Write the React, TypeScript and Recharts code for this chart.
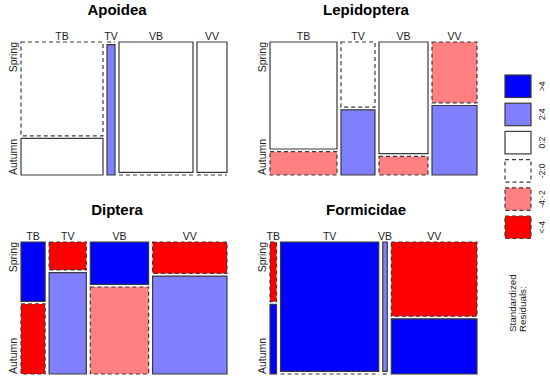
import { ComposedChart, XAxis, YAxis, ReferenceArea, ReferenceLine } from "recharts";

const sites = ["TB", "TV", "VB", "VV"];
const seasons = ["Spring", "Autumn"];

const apoideaSpring = [59, 0, 74, 30];
const apoideaAutumn = [23, 8, 0, 0];
const apoideaSpringShade = ["-2:0", "-2:0", "0:2", "0:2"];
const apoideaAutumnShade = ["0:2", "2:4", "-2:0", "-2:0"];

const lepidopteraSpring = [55, 17, 42, 21];
const lepidopteraAutumn = [12, 17, 7, 24];
const lepidopteraSpringShade = ["0:2", "-2:0", "0:2", "-4:-2"];
const lepidopteraAutumnShade = ["-4:-2", "2:4", "-4:-2", "2:4"];

const dipteraSpring = [11, 8, 19, 18];
const dipteraAutumn = [13, 29, 39, 56];
const dipteraSpringShade = [">4", "<-4", ">4", "<-4"];
const dipteraAutumnShade = ["<-4", "2:4", "-4:-2", "2:4"];

const formicidaeSpring = [6, 196, 9, 98];
const formicidaeAutumn = [7, 0, 0, 73];
const formicidaeSpringShade = ["<-4", ">4", "2:4", "<-4"];
const formicidaeAutumnShade = [">4", "-2:0", "-2:0", ">4"];

const legendLevels = [">4", "2:4", "0:2", "-2:0", "-4:-2", "<-4"];

const SHADE: Record<string, { fill: string; dashed: boolean }> = {
  ">4": { fill: "#0000FF", dashed: false },
  "2:4": { fill: "#8080FF", dashed: false },
  "0:2": { fill: "#FFFFFF", dashed: false },
  "-2:0": { fill: "#FFFFFF", dashed: true },
  "-4:-2": { fill: "#FF8080", dashed: true },
  "<-4": { fill: "#FF0000", dashed: true },
};

const FONT = "'Liberation Sans', Arial, Helvetica, sans-serif";
const LINE = "#3a3a3a";
const DASH = "4 3";
const GAP_X = 0.0194;
const GAP_Y = 0.02;

function buildCells(spring: number[], autumn: number[], springShade: string[], autumnShade: string[]) {
  const totals = spring.map((s, i) => s + autumn[i]);
  const grand = totals.reduce((a, b) => a + b, 0);
  const availX = 1 - GAP_X * (totals.length - 1);
  const availY = 1 - GAP_Y;
  const cells: { x1: number; x2: number; y1: number; y2: number; shade: string; zero: boolean }[] = [];
  const ticks: number[] = [];
  let x = 0;
  totals.forEach((t, i) => {
    const x2 = x + (t / grand) * availX;
    ticks.push((x + x2) / 2);
    const hs = (spring[i] / t) * availY;
    const ha = (autumn[i] / t) * availY;
    cells.push({ x1: x, x2, y1: 1 - hs, y2: 1, shade: springShade[i], zero: spring[i] === 0 });
    cells.push({ x1: x, x2, y1: 0, y2: ha, shade: autumnShade[i], zero: autumn[i] === 0 });
    x = x2 + GAP_X;
  });
  return { cells, ticks };
}

const SiteTick = (props: any) => (
  <text x={props.x} y={props.y + 6} textAnchor="middle" fontSize={10.5} fontFamily={FONT} fill="#222">
    {sites[props.index]}
  </text>
);

const SeasonTick = (props: any) => {
  const top = props.payload.value === 1;
  return (
    <text
      x={props.x}
      y={props.y}
      transform={`rotate(-90 ${props.x} ${props.y})`}
      textAnchor={top ? "end" : "start"}
      dominantBaseline="central"
      fontSize={10.5}
      fontFamily={FONT}
      fill="#222"
    >
      {top ? seasons[0] : seasons[1]}
    </text>
  );
};

type Plot = { left: number; top: number; width: number; height: number };

function MosaicPanel(p: { plot: Plot; spring: number[]; autumn: number[]; springShade: string[]; autumnShade: string[] }) {
  const { cells, ticks } = buildCells(p.spring, p.autumn, p.springShade, p.autumnShade);
  return (
    <div style={{ position: "absolute", left: p.plot.left - 22, top: p.plot.top - 24 }}>
      <ComposedChart
        width={p.plot.width + 26}
        height={p.plot.height + 28}
        data={cells}
        margin={{ top: 4, right: 4, bottom: 4, left: 2 }}
      >
        <XAxis dataKey="x1" type="number" orientation="top" domain={[0, 1]} ticks={ticks} interval={0} height={20} tickLine={false} axisLine={false} tick={<SiteTick />} />
        <YAxis dataKey="y2" type="number" domain={[0, 1]} ticks={[0, 1]} interval={0} width={20} tickLine={false} axisLine={false} tick={<SeasonTick />} />
        {cells.map((c, i) => {
          const s = SHADE[c.shade];
          return c.zero ? (
            <ReferenceLine
              key={i}
              segment={[{ x: c.x1, y: c.y1 }, { x: c.x2, y: c.y1 }]}
              stroke={LINE}
              strokeWidth={1.2}
              strokeDasharray={s.dashed ? DASH : undefined}
              ifOverflow="visible"
            />
          ) : (
            <ReferenceArea
              key={i}
              x1={c.x1}
              x2={c.x2}
              y1={c.y1}
              y2={c.y2}
              fill={s.fill}
              fillOpacity={1}
              stroke={LINE}
              strokeWidth={1.2}
              strokeDasharray={s.dashed ? DASH : undefined}
              ifOverflow="visible"
            />
          );
        })}
      </ComposedChart>
    </div>
  );
}

export default function App() {
  return (
    <div style={{ position: "absolute", left: 0, top: 0, width: 550, height: 380, background: "#fff", fontFamily: FONT }}>
      <MosaicPanel plot={{ left: 21, top: 42, width: 206, height: 133 }} spring={apoideaSpring} autumn={apoideaAutumn} springShade={apoideaSpringShade} autumnShade={apoideaAutumnShade} />
      <MosaicPanel plot={{ left: 270, top: 42, width: 207, height: 133 }} spring={lepidopteraSpring} autumn={lepidopteraAutumn} springShade={lepidopteraSpringShade} autumnShade={lepidopteraAutumnShade} />
      <MosaicPanel plot={{ left: 21, top: 242, width: 206, height: 132 }} spring={dipteraSpring} autumn={dipteraAutumn} springShade={dipteraSpringShade} autumnShade={dipteraAutumnShade} />
      <MosaicPanel plot={{ left: 270, top: 242, width: 207, height: 132 }} spring={formicidaeSpring} autumn={formicidaeAutumn} springShade={formicidaeSpringShade} autumnShade={formicidaeAutumnShade} />
      <svg width={550} height={380} style={{ position: "absolute", left: 0, top: 0, pointerEvents: "none" }}>
        <g fontFamily={FONT} fontWeight="bold" fontSize={15} fill="#000" textAnchor="middle">
          <text x={117} y={15}>Apoidea</text>
          <text x={366} y={15}>Lepidoptera</text>
          <text x={117} y={215}>Diptera</text>
          <text x={366} y={215}>Formicidae</text>
        </g>
        {legendLevels.map((lv, i) => {
          const y = 75 + i * 28.2;
          const s = SHADE[lv];
          return (
            <g key={lv}>
              <rect x={505} y={y} width={26} height={22.5} fill={s.fill} stroke={LINE} strokeWidth={1.2} strokeDasharray={s.dashed ? DASH : undefined} />
              <text x={542} y={y + 11.25} transform={`rotate(-90 542 ${y + 11.25})`} textAnchor="middle" dominantBaseline="central" fontSize={8.5} fontFamily={FONT} fill="#222">
                {lv}
              </text>
            </g>
          );
        })}
        <g fontFamily={FONT} fontSize={9.8} fill="#222" textAnchor="start" dominantBaseline="central">
          <text x={512} y={332} transform="rotate(-90 512 332)">Standardized</text>
          <text x={522} y={332} transform="rotate(-90 522 332)">Residuals:</text>
        </g>
      </svg>
    </div>
  );
}
